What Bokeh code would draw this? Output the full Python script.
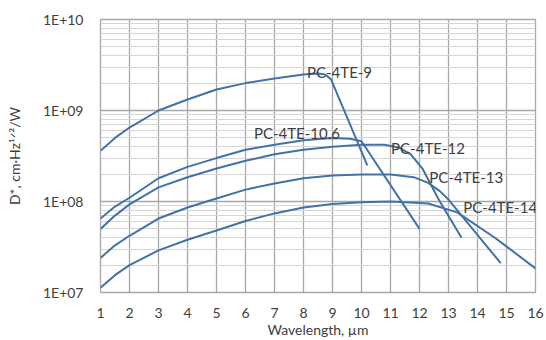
from bokeh.plotting import figure
from bokeh.models import FixedTicker, ColumnDataSource
from bokeh.embed import file_html
from bokeh.resources import INLINE

# ---- data ----
wl_9 = [1, 1.5, 2, 3, 4, 5, 6, 7, 8, 8.5, 8.75, 8.95, 10.2]
d_9 = [3.6e8, 5.0e8, 6.5e8, 1.0e9, 1.32e9, 1.7e9, 2.0e9, 2.25e9, 2.48e9, 2.55e9, 2.48e9, 2.2e9, 2.5e8]

wl_106 = [1, 1.5, 2, 3, 4, 5, 6, 7, 8, 9, 9.6, 10.0, 12.0]
d_106 = [6.5e7, 8.8e7, 1.1e8, 1.8e8, 2.4e8, 3.0e8, 3.7e8, 4.2e8, 4.7e8, 5.0e8, 4.9e8, 4.6e8, 5.0e7]

wl_12 = [1, 1.5, 2, 3, 4, 5, 6, 7, 8, 9, 10, 10.8, 11.3, 11.7, 12.1, 12.7, 13.45]
d_12 = [5.0e7, 7.0e7, 9.3e7, 1.43e8, 1.85e8, 2.3e8, 2.8e8, 3.3e8, 3.7e8, 4.0e8, 4.2e8, 4.2e8, 3.9e8, 3.3e8, 2.3e8, 1.0e8, 4.0e7]

wl_13 = [1, 1.5, 2, 3, 4, 5, 6, 7, 8, 9, 10, 11, 11.8, 12.3, 12.7, 13.0, 14.8]
d_13 = [2.4e7, 3.3e7, 4.2e7, 6.5e7, 8.6e7, 1.08e8, 1.35e8, 1.58e8, 1.8e8, 1.93e8, 1.98e8, 1.98e8, 1.85e8, 1.6e8, 1.3e8, 1.05e8, 2.1e7]

wl_14 = [1, 1.5, 2, 3, 4, 5, 6, 7, 8, 9, 10, 11, 12.3, 13.3, 14.6, 16]
d_14 = [1.13e7, 1.55e7, 2.0e7, 2.9e7, 3.8e7, 4.8e7, 6.1e7, 7.4e7, 8.6e7, 9.4e7, 9.8e7, 1.0e8, 9.5e7, 7.6e7, 4.0e7, 1.84e7]

series_names = ["PC-4TE-9", "PC-4TE-10.6", "PC-4TE-12", "PC-4TE-13", "PC-4TE-14"]
label_x = [8.12, 6.29, 11.02, 12.34, 13.51]
label_y = [2.62e9, 5.73e8, 3.92e8, 1.84e8, 8.6e7]

xticks = list(range(1, 17))
yticks = [1e7, 1e8, 1e9, 1e10]
ytick_labels = ["1E+07", "1E+08", "1E+09", "1E+10"]
x_title = "Wavelength, µm"
y_title = "D*, cm·Hz¹ᐟ²/W"

FONT = "Lato, DejaVu Sans"
TXT = "#404040"
LINE = "#4272a8"

p = figure(width=546, height=340, x_range=(1, 16), y_range=(1e7, 1e10),
           y_axis_type="log", output_backend="svg", toolbar_location=None,
           min_border_left=100, min_border_right=11, min_border_top=19,
           min_border_bottom=48, background_fill_color="white",
           border_fill_color="white")

# grid
p.xaxis.ticker = FixedTicker(ticks=xticks)
minor = [k * 10 ** e for e in range(7, 10) for k in range(2, 10)]
p.yaxis.ticker = FixedTicker(ticks=yticks, minor_ticks=minor)
p.xgrid.grid_line_color = "#a8a8a8"
p.xgrid.grid_line_width = 1.3
p.ygrid.grid_line_color = "#a8a8a8"
p.ygrid.grid_line_width = 1.6
p.ygrid.minor_grid_line_color = "#d6d6d6"
p.ygrid.minor_grid_line_width = 1
p.outline_line_color = "#a8a8a8"
p.outline_line_width = 1.3

for ax in (p.xaxis[0], p.yaxis[0]):
    ax.axis_line_color = None
    ax.major_tick_line_color = None
    ax.minor_tick_line_color = None
    ax.major_tick_out = 0
    ax.major_tick_in = 0
    ax.minor_tick_out = 0
    ax.minor_tick_in = 0
    ax.major_label_text_font = FONT
    ax.major_label_text_font_size = "14px"
    ax.major_label_text_color = TXT
    ax.axis_label_text_font = FONT
    ax.axis_label_text_font_size = "14px"
    ax.axis_label_text_font_style = "normal"
    ax.axis_label_text_color = TXT

p.yaxis.major_label_overrides = {v: s for v, s in zip(yticks, ytick_labels)}
p.yaxis.major_label_standoff = 17
p.yaxis.axis_label = y_title
p.yaxis.axis_label_standoff = 17
p.xaxis.major_label_standoff = 15
p.xaxis.axis_label = x_title
p.xaxis.axis_label_standoff = 0

for wl, d in [(wl_9, d_9), (wl_106, d_106), (wl_12, d_12), (wl_13, d_13), (wl_14, d_14)]:
    p.line(wl, d, line_color=LINE, line_width=2)

src = ColumnDataSource(dict(x=label_x, y=label_y, t=series_names))
p.text(x="x", y="y", text="t", source=src, text_font={"value": FONT},
       text_font_size={"value": "15px"}, text_color=TXT,
       text_align="left", text_baseline="middle")

open("out.html", "w").write(file_html(p, INLINE))
